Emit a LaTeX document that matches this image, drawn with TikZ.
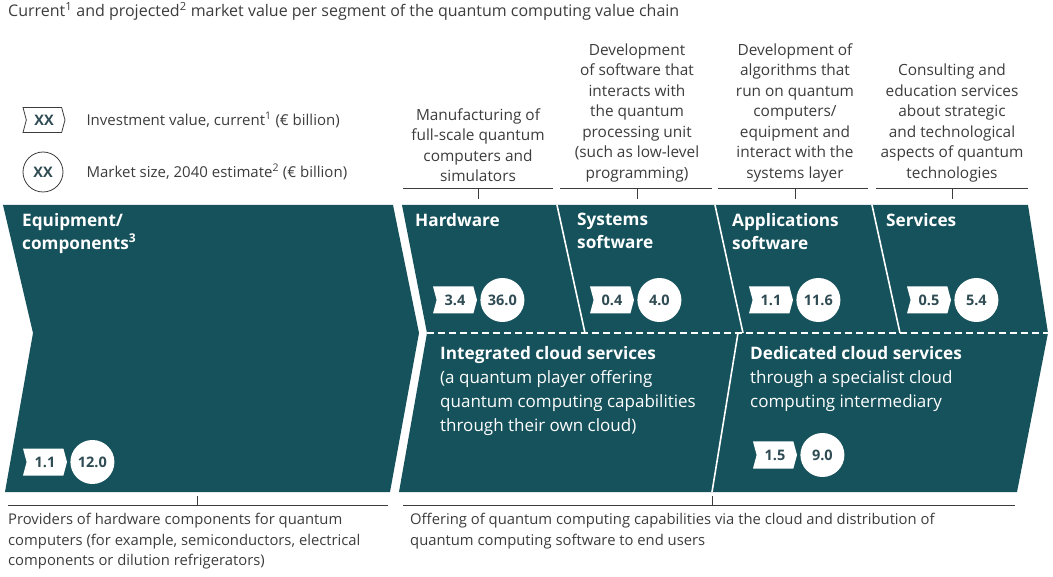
\documentclass[tikz,border=0pt]{standalone}
\usepackage{fontspec}
\setmainfont{Open Sans}
\usepackage{tikz}
\usetikzlibrary{positioning,shapes.symbols}
\definecolor{chain}{HTML}{16525C}
\definecolor{ink}{HTML}{3C3C3C}
\definecolor{tagink}{HTML}{2F4B53}
\newcommand\cloudhead{\bfseries\fontsize{17.2}{24}\selectfont}

\begin{document}
\begin{tikzpicture}[x=1pt, y=-1pt,
    invest/.style={signal, signal to=east, signal from=west, signal pointer angle=150,
        fill=white, text=tagink, font=\bfseries\fontsize{14.5}{14.5}\selectfont,
        minimum width=44pt, minimum height=27pt, inner sep=0pt},
    market/.style={circle, fill=white, text=tagink, font=\bfseries\fontsize{14.5}{14.5}\selectfont,
        minimum size=44pt, inner sep=0pt},
    head/.style={anchor=south, align=center, text=ink, inner sep=0pt,
        font=\fontsize{15.4}{20.5}\selectfont},
    segtitle/.style={anchor=north west, align=left, text=white, inner sep=0pt,
        font=\bfseries\fontsize{17.2}{23}\selectfont},
    cloud/.style={anchor=north west, align=left, text=white, inner sep=0pt,
        font=\fontsize{17}{24}\selectfont},
    note/.style={anchor=north west, align=left, text=ink, inner sep=0pt,
        font=\fontsize{14.8}{20.5}\selectfont},
    bracket/.style={ink, line width=0.7pt},
    divider/.style={white, line width=1.6pt}]
    \useasboundingbox (0,0) rectangle (1053,577);

    % title
    \node[note, font=\fontsize{16}{16}\selectfont] (title) at (8,2)
        {Current\textsuperscript{1} and projected\textsuperscript{2} market value per segment of the quantum computing value chain};

    % legend
    \node[invest, draw=ink, line width=0.8pt, minimum width=42pt, minimum height=25pt] (keyinv) at (44,120) {XX};
    \node[market, draw=ink, line width=0.8pt, minimum size=40pt] (keymkt) at (43,172) {XX};
    \node[anchor=west, text=ink, font=\fontsize{15}{15}\selectfont] (keyinvtxt) at (83,120)
        {Investment value, current\textsuperscript{1} (€ billion)};
    \node[anchor=west, text=ink, font=\fontsize{15}{15}\selectfont] (keymkttxt) at (83,172)
        {Market size, 2040 estimate\textsuperscript{2} (€ billion)};

    % chevrons
    \fill[chain] (3,205) -- (393,205) -- (419,333) -- (390,492) -- (5,492) -- (33,333) -- cycle;
    \fill[chain] (402,205) -- (1028,205) -- (1048,333) -- (1017,492) -- (399,492) -- (427,333) -- cycle;
    \draw[divider] (557,205) -- (585,333);
    \draw[divider] (715,205) -- (743,333);
    \draw[divider] (872,205) -- (900,333);
    \draw[divider] (738,333) -- (712,492);
    \draw[white, line width=2pt, dash pattern=on 7pt off 4pt] (427,333) -- (1048,333);

    % segment headers above the chain
    \draw[bracket] (403,188) -- (553,188) (478,188) -- (478,199);
    \draw[bracket] (560,188) -- (712,188) (637,188) -- (637,199);
    \draw[bracket] (718,188) -- (868,188) (795,188) -- (795,199);
    \draw[bracket] (876,188) -- (1028,188) (952,188) -- (952,199);
    \node[head] (hwhead) at (478,182) {Manufacturing of\\full-scale quantum\\computers and\\simulators};
    \node[head] (syshead) at (637,182) {Development\\of software that\\interacts with\\the quantum\\processing unit\\(such as low-level\\programming)};
    \node[head] (apphead) at (795,182) {Development of\\algorithms that\\run on quantum\\computers/\\equipment and\\interact with the\\systems layer};
    \node[head] (servhead) at (952,182) {Consulting and\\education services\\about strategic\\and technological\\aspects of quantum\\technologies};

    % segment titles
    \node[segtitle] (equip) at (22,213) {Equipment/\\components\textsuperscript{3}};
    \node[segtitle] (hw) at (415,213) {Hardware};
    \node[segtitle] (sys) at (577,213) {Systems\\software};
    \node[segtitle] (app) at (732,213) {Applications\\software};
    \node[segtitle] (serv) at (886,213) {Services};
    \node[cloud] (integ) at (440,346) {{\cloudhead Integrated cloud services}\\(a quantum player offering\\quantum computing capabilities\\through their own cloud)};
    \node[cloud] (dedic) at (750,346) {{\cloudhead Dedicated cloud services}\\through a specialist cloud\\computing intermediary};

    % values
    \node[invest] (equipinv) at (45,462) {1.1};
    \node[market, right=3pt of equipinv] (equipmkt) {12.0};
    \node[invest] (hwinv) at (455,300) {3.4};
    \node[market, right=3pt of hwinv] (hwmkt) {36.0};
    \node[invest] (sysinv) at (612,300) {0.4};
    \node[market, right=3pt of sysinv] (sysmkt) {4.0};
    \node[invest] (appinv) at (771,300) {1.1};
    \node[market, right=3pt of appinv] (appmkt) {11.6};
    \node[invest] (servinv) at (929,300) {0.5};
    \node[market, right=3pt of servinv] (servmkt) {5.4};
    \node[invest] (dedicinv) at (775,455) {1.5};
    \node[market, right=3pt of dedicinv] (dedicmkt) {9.0};

    % notes below the chain
    \draw[bracket] (8,505) -- (388,505) (197,505) -- (197,496);
    \draw[bracket] (403,505) -- (1015,505) (712,505) -- (712,496);
    \node[note] (equipnote) at (8,513) {Providers of hardware components for quantum\\computers (for example, semiconductors, electrical\\components or dilution refrigerators)};
    \node[note] (cloudnote) at (410,513) {Offering of quantum computing capabilities via the cloud and distribution of\\quantum computing software to end users};
\end{tikzpicture}
\end{document}
